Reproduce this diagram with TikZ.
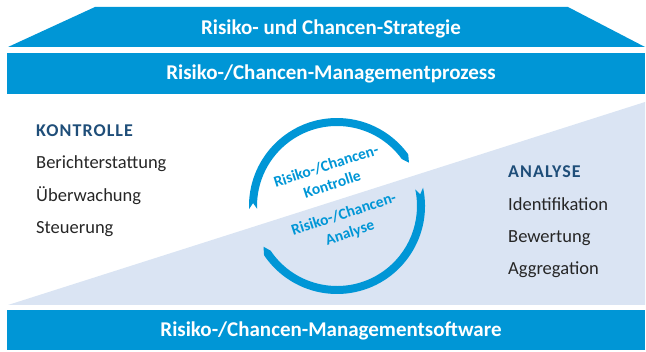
\documentclass[tikz,border=0pt]{standalone}
\usepackage{fontspec}
\setmainfont{Carlito}
\definecolor{bandblue}{RGB}{0,150,214}
\definecolor{lightblue}{RGB}{218,228,243}
\definecolor{headblue}{RGB}{31,78,121}
\definecolor{bodytext}{RGB}{38,38,38}
\tikzset{
  bandtitle/.style={anchor=base, text=white, inner sep=0pt, font=\bfseries\fontsize{21}{25}\selectfont},
  heading/.style={anchor=base west, text=headblue, inner sep=0pt, font=\bfseries\fontsize{18}{22}\selectfont\addfontfeatures{LetterSpace=6}},
  itemtext/.style={anchor=base west, text=bodytext, inner sep=0pt, font=\fontsize{18.5}{22}\selectfont},
  circtext/.style={text=bandblue, inner sep=0pt, align=center, rotate=18, font=\bfseries\fontsize{15.5}{19.5}\selectfont},
  arrowfill/.style={fill=bandblue}
}
\begin{document}
\begin{tikzpicture}[x=1pt,y=-1pt]
\useasboundingbox (0,0) rectangle (646,352);
% bands
\fill[bandblue] (8,47) -- (95,7) -- (568,7) -- (645,47) -- cycle;
\fill[bandblue] (7,53) rectangle (645,94);
\fill[lightblue] (8,305) -- (645,102) -- (645,305) -- cycle;
\fill[bandblue] (7,310) rectangle (645,350);
\node[bandtitle] (strat) at (331,35) {Risiko- und Chancen-Strategie};
\node[bandtitle] (proz) at (331,80) {Risiko-/Chancen-Managementprozess};
\node[bandtitle] (soft) at (331,337) {Risiko-/Chancen-Managementsoftware};
% left column
\node[heading] (kon) at (36,137) {KONTROLLE};
\node[itemtext] (ber) at (36,169) {Berichterstattung};
\node[itemtext] (ueb) at (36,202) {Überwachung};
\node[itemtext] (ste) at (36,234) {Steuerung};
% right column
\node[heading] (ana) at (508,178) {ANALYSE};
\node[itemtext] (ide) at (508,211) {Identifikation};
\node[itemtext] (bew) at (508,243) {Bewertung};
\node[itemtext] (agg) at (508,275) {Aggregation};
% circular arrows
\begin{scope}[shift={(337,206)}]
\fill[arrowfill] (182:88pt) arc[start angle=182, end angle=36, radius=88pt] -- (31:84pt) -- (36:80pt) arc[start angle=36, end angle=182, radius=80pt] -- (178:84pt) -- cycle;
\fill[arrowfill] (12:88pt) arc[start angle=12, end angle=-146, radius=88pt] -- (-151:84pt) -- (-146:80pt) arc[start angle=-146, end angle=12, radius=80pt] -- (8:84pt) -- cycle;
\end{scope}
\node[circtext] (ktext) at (329,175) {Risiko-/Chancen-\\Kontrolle};
\node[circtext] (atext) at (347,224) {Risiko-/Chancen-\\Analyse};
\end{tikzpicture}
\end{document}
